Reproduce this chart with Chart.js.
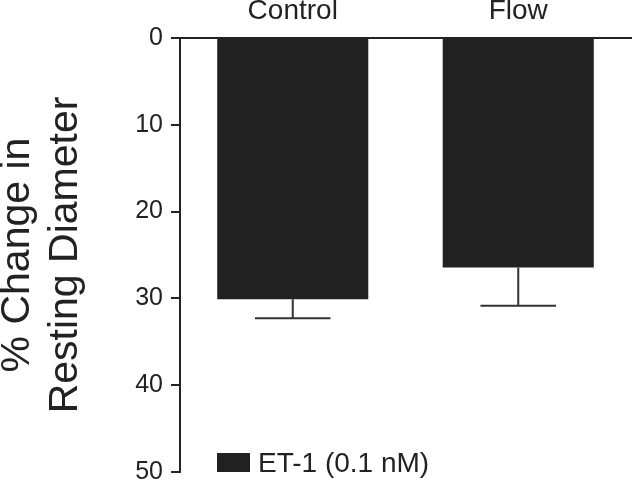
<!DOCTYPE html>
<html>
<head>
<meta charset="utf-8">
<script src="https://cdn.jsdelivr.net/npm/chart.js@4/dist/chart.umd.min.js"></script>
<style>
  html, body { margin: 0; padding: 0; background: #fff; }
  #wrap { width: 632px; height: 481px; }
</style>
</head>
<body>
<div id="wrap"><canvas id="c" width="632" height="481"></canvas></div>
<script>
const categories = ['Control', 'Flow'];
const seriesLabel = 'ET-1 (0.1 nM)';
const values = [30.1, 26.45];
const errors = [2.2, 4.4];
const yTicks = [0, 10, 20, 30, 40, 50];
const yTitle = ['% Change in', 'Resting Diameter'];

const INK = '#222222';
const FONT = "'Liberation Sans', Arial, sans-serif";

const errorBars = {
  id: 'errorBars',
  afterDatasetsDraw(chart) {
    const ctx = chart.ctx;
    const y = chart.scales.y;
    chart.data.datasets.forEach((ds, di) => {
      const meta = chart.getDatasetMeta(di);
      meta.data.forEach((bar, i) => {
        const v = ds.data[i];
        const e = ds.errors[i];
        const y0 = y.getPixelForValue(v);
        const y1 = y.getPixelForValue(v + e);
        const half = bar.width / 4;
        ctx.save();
        ctx.strokeStyle = '#333333';
        ctx.lineWidth = 2;
        ctx.beginPath();
        ctx.moveTo(bar.x, y0);
        ctx.lineTo(bar.x, y1);
        ctx.moveTo(bar.x - half, y1);
        ctx.lineTo(bar.x + half, y1);
        ctx.stroke();
        ctx.restore();
      });
    });
  }
};

const innerLegend = {
  id: 'innerLegend',
  afterDraw(chart) {
    const ctx = chart.ctx;
    const area = chart.chartArea;
    const ds = chart.data.datasets[0];
    const bx = area.left + 37;
    const bh = 19, bw = 33;
    const by = area.bottom - bh;
    ctx.save();
    ctx.fillStyle = ds.backgroundColor;
    ctx.fillRect(bx, by, bw, bh);
    ctx.fillStyle = INK;
    ctx.font = "28px " + FONT;
    ctx.textBaseline = 'alphabetic';
    ctx.textAlign = 'left';
    ctx.fillText(ds.label, bx + bw + 8, area.bottom);
    ctx.restore();
  }
};

new Chart(document.getElementById('c'), {
  type: 'bar',
  data: {
    labels: categories,
    datasets: [{
      label: seriesLabel,
      data: values,
      errors: errors,
      backgroundColor: '#212121',
      borderWidth: 0,
      categoryPercentage: 1.0,
      barPercentage: 0.67
    }]
  },
  options: {
    responsive: false,
    animation: false,
    devicePixelRatio: 1,
    layout: { padding: { top: 0, left: 0, right: 1, bottom: 9 } },
    plugins: {
      legend: { display: false },
      tooltip: { enabled: false }
    },
    scales: {
      x: {
        position: 'top',
        grid: { display: false, drawTicks: false, tickLength: 0 },
        border: { display: true, color: INK, width: 2 },
        ticks: {
          color: INK,
          padding: 10,
          font: { family: FONT, size: 28 }
        },
        afterFit(scale) { scale.height = 38; }
      },
      y: {
        reverse: true,
        min: 0,
        max: 50,
        afterBuildTicks(scale) { scale.ticks = yTicks.map(v => ({ value: v })); },
        grid: {
          display: true,
          drawOnChartArea: false,
          drawTicks: true,
          tickLength: 9,
          color: INK,
          lineWidth: 2
        },
        border: { display: true, color: INK, width: 2 },
        ticks: {
          color: INK,
          padding: 8,
          font: { family: FONT, size: 25 }
        },
        title: {
          display: true,
          text: yTitle,
          color: INK,
          padding: { top: -6, bottom: 0 },
          font: { family: FONT, size: 41, lineHeight: 48 / 41 }
        },
        afterFit(scale) {
          scale.width = 180;
          scale.paddingTop = 0;
          scale.paddingBottom = 0;
        }
      }
    }
  },
  plugins: [errorBars, innerLegend]
});
</script>
</body>
</html>
